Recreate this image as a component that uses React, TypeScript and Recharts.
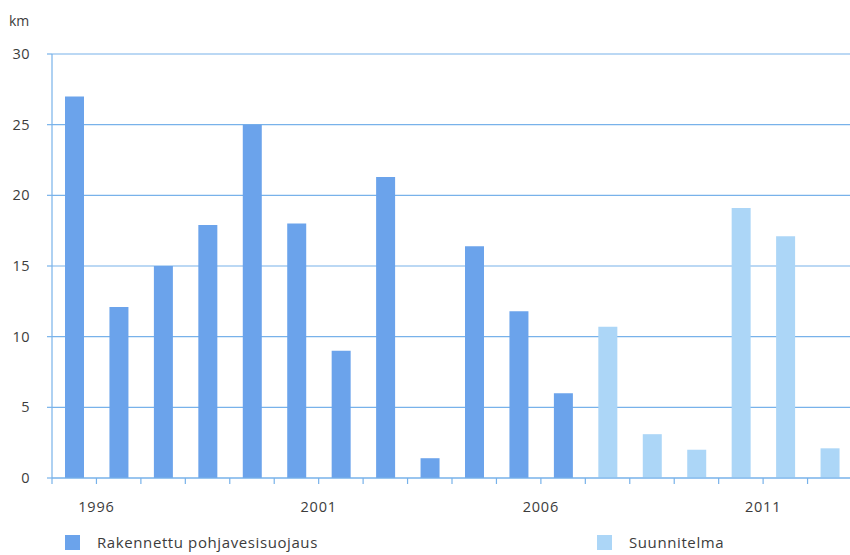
import React from 'react';
import { BarChart, Bar, XAxis, YAxis, CartesianGrid } from 'recharts';

// Groundwater protection built per year and planned schedule (km)
const years = ['1996', '1997', '1998', '1999', '2000', '2001', '2002', '2003', '2004', '2005', '2006', '2007', '2008', '2009', '2010', '2011', '2012', '2013'];
const builtKm: (number | null)[] = [27.0, 12.1, 15.0, 17.9, 25.0, 18.0, 9.0, 21.3, 1.4, 16.4, 11.8, 6.0, null, null, null, null, null, null];
const plannedKm: (number | null)[] = [null, null, null, null, null, null, null, null, null, null, null, null, 10.7, 3.1, 2.0, 19.1, 17.1, 2.1];
const yTicks = [0, 5, 10, 15, 20, 25, 30];
const labeledYears = ['1996', '2001', '2006', '2011'];

const BUILT_COLOR = '#6ba3eb';
const PLAN_COLOR = '#acd6f7';
const LINE_COLOR = '#78b2ea';
const TEXT_COLOR = '#3c3c3c';
const FONT = '"Open Sans", "Noto Sans", sans-serif';

const data = years.map((year, i) => ({ year, built: builtKm[i], plan: plannedKm[i] }));

const CHART_W = 860;
const LEFT = 52;
const RIGHT_MARGIN = 8;
const BAND = (CHART_W - LEFT - RIGHT_MARGIN) / years.length;

const YearTick = (props: any) => {
  const { x, y, payload, index } = props;
  const half = BAND / 2;
  const label = labeledYears.includes(payload.value) ? payload.value : null;
  const top = y - 6;
  return (
    <g>
      <line x1={x + half} x2={x + half} y1={top} y2={top + 6} stroke={LINE_COLOR} strokeWidth={1.2} />
      {index === 0 && (
        <line x1={x - half} x2={x - half} y1={top} y2={top + 6} stroke={LINE_COLOR} strokeWidth={1.2} />
      )}
      {label && (
        <text
          x={x + half}
          y={top + 34}
          textAnchor="middle"
          fill={TEXT_COLOR}
          fontSize={14.5}
          fontFamily={FONT}
          letterSpacing={0.8}
        >
          {label}
        </text>
      )}
    </g>
  );
};

const LegendItem = ({ left, color, text }: { left: number; color: string; text: string }) => (
  <div style={{ position: 'absolute', left, top: 532, height: 20, display: 'flex', alignItems: 'center' }}>
    <div style={{ width: 15, height: 15, background: color }} />
    <span style={{ marginLeft: 17, fontSize: 15, lineHeight: '20px', color: TEXT_COLOR, fontFamily: FONT, letterSpacing: 0.6 }}>{text}</span>
  </div>
);

export default function App() {
  return (
    <div style={{ position: 'fixed', left: 0, top: 0, width: 850, height: 555, overflow: 'hidden', background: '#fff' }}>
      <div style={{ position: 'absolute', left: 9, top: 11, fontSize: 14, color: TEXT_COLOR, fontFamily: FONT }}>km</div>
      <BarChart
        width={CHART_W}
        height={555}
        data={data}
        margin={{ top: 54, right: RIGHT_MARGIN, bottom: 47, left: 8 }}
        barCategoryGap={0}
      >
        <CartesianGrid horizontal vertical={false} stroke={LINE_COLOR} strokeWidth={1.2} />
        <XAxis
          dataKey="year"
          interval={0}
          height={30}
          tickLine={false}
          tickSize={6}
          tickMargin={0}
          axisLine={{ stroke: LINE_COLOR, strokeWidth: 1.2 }}
          tick={<YearTick />}
        />
        <YAxis
          width={44}
          domain={[0, 30]}
          ticks={yTicks}
          interval={0}
          tickSize={5}
          tickMargin={17}
          tickLine={{ stroke: LINE_COLOR, strokeWidth: 1.2 }}
          axisLine={{ stroke: LINE_COLOR, strokeWidth: 1.2 }}
          tick={{ fill: TEXT_COLOR, fontSize: 14.5, fontFamily: FONT, letterSpacing: 0.5 }}
        />
        <Bar dataKey="built" stackId="km" fill={BUILT_COLOR} barSize={19} isAnimationActive={false} />
        <Bar dataKey="plan" stackId="km" fill={PLAN_COLOR} barSize={19} isAnimationActive={false} />
      </BarChart>
      <LegendItem left={65} color={BUILT_COLOR} text="Rakennettu pohjavesisuojaus" />
      <LegendItem left={597} color={PLAN_COLOR} text="Suunnitelma" />
    </div>
  );
}
